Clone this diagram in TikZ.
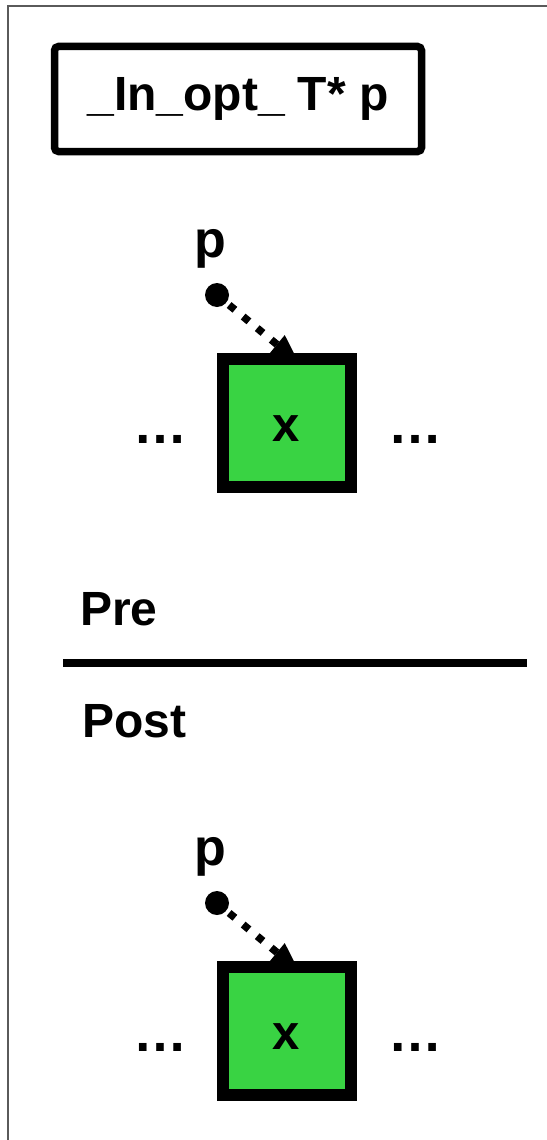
\documentclass[tikz,border=0pt]{standalone}
\usepackage{fontspec}
\setmainfont{Liberation Sans}
\usetikzlibrary{arrows.meta}

\definecolor{cellgreen}{RGB}{57,211,67}
\definecolor{framegray}{RGB}{90,90,90}

\pgfdeclarelayer{under}
\pgfsetlayers{under,main}

\tikzset{
  txt/.style={font=\bfseries\fontsize{#1}{#1}\selectfont, inner sep=0pt},
  titlebox/.style={draw=black, line width=7.5pt, rounded corners=4pt,
    minimum width=367pt, minimum height=105pt, inner sep=0pt, txt=48},
  cell/.style={draw=black, line width=12.5pt, fill=cellgreen,
    minimum size=128pt, inner sep=0pt},
  handle/.style={circle, fill=black, minimum size=24pt, inner sep=0pt},
  ptr/.style={line width=7.5pt, dash pattern=on 7.5pt off 10.7pt,
    dash phase=14.7pt, -{Triangle[length=29pt,width=22pt]},
    shorten >=-16pt},
  rule/.style={line width=8pt}
}

\begin{document}
\begin{tikzpicture}[x=1pt,y=-1pt]
\useasboundingbox (0,0) rectangle (546,1140);
\begin{pgfonlayer}{under}
  \fill[white] (0,0) rectangle (546,1140);
  \draw[framegray, line width=2pt] (8,6) rectangle (600,1200);
\end{pgfonlayer}

% heading
\node[titlebox] (title) at (238,99) {\_In\_opt\_ T* p};

% the two states of the list
\foreach \oy/\tag in {0/pre,608/post} {
  \node[cell] (cell\tag) at (287,423+\oy) {};
  \node[txt=49, anchor=base] (x\tag) at (286,441+\oy) {x};
  \node[txt=54, anchor=base] (ldots\tag) at (160,443+\oy) {…};
  \node[txt=54, anchor=base] (rdots\tag) at (415.5,443+\oy) {…};
  \node[handle] (dot\tag) at (217,295+\oy) {};
  \node[txt=52, anchor=base] (p\tag) at (210,257+\oy) {p};
  \begin{pgfonlayer}{under}
    \draw[ptr] (dot\tag) -- (cell\tag.north);
  \end{pgfonlayer}
}

% section labels and divider
\node[txt=48, anchor=base west] (prelabel) at (80,625) {Pre};
\coordinate (ruleL) at (63,663);
\coordinate (ruleR) at (527,663);
\draw[rule] (ruleL) -- (ruleR);
\node[txt=48, anchor=base west] (postlabel) at (82,737) {Post};
\end{tikzpicture}
\end{document}
